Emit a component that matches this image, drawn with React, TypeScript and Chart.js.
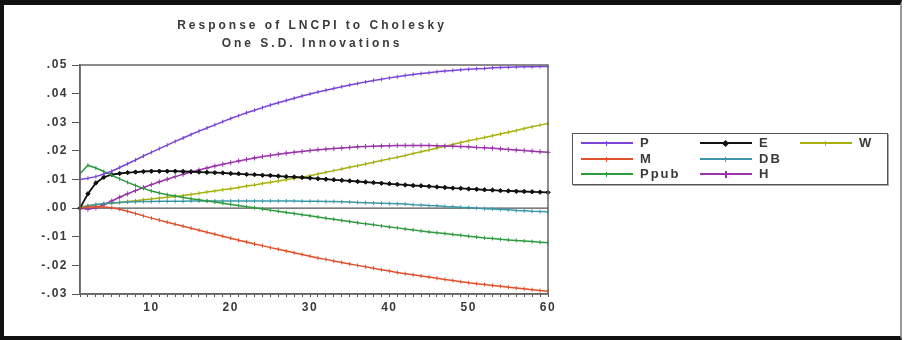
import React, { useEffect, useRef } from "react";
import { Chart, registerables } from "chart.js";

Chart.register(...registerables);

const periods: string[] = Array.from({ length: 60 }, (_, i) => String(i + 1));

const seriesP = [
  0.0100, 0.0104, 0.0110, 0.0119, 0.0129, 0.0142, 0.0155, 0.0168, 0.0182, 0.0195,
  0.0208, 0.0220, 0.0233, 0.0245, 0.0257, 0.0269, 0.0280, 0.0291, 0.0302, 0.0313,
  0.0323, 0.0333, 0.0342, 0.0351, 0.0360, 0.0368, 0.0376, 0.0384, 0.0392, 0.0399,
  0.0406, 0.0412, 0.0418, 0.0424, 0.0430, 0.0435, 0.0441, 0.0446, 0.0450, 0.0455,
  0.0459, 0.0463, 0.0467, 0.0470, 0.0473, 0.0476, 0.0479, 0.0481, 0.0483, 0.0485,
  0.0487, 0.0488, 0.0490, 0.0491, 0.0492, 0.0493, 0.0494, 0.0494, 0.0495, 0.0495,
];

const seriesM = [
  0.0000, 0.0004, 0.0005, 0.0004, 0.0001, -0.0004, -0.0011, -0.0019, -0.0027, -0.0035,
  -0.0042, -0.0049, -0.0056, -0.0063, -0.0070, -0.0077, -0.0084, -0.0091, -0.0098, -0.0105,
  -0.0112, -0.0118, -0.0125, -0.0131, -0.0138, -0.0144, -0.0150, -0.0156, -0.0162, -0.0168,
  -0.0174, -0.0179, -0.0185, -0.0190, -0.0195, -0.0200, -0.0205, -0.0210, -0.0215, -0.0220,
  -0.0225, -0.0229, -0.0233, -0.0237, -0.0241, -0.0245, -0.0249, -0.0253, -0.0257, -0.0261,
  -0.0264, -0.0267, -0.0270, -0.0273, -0.0276, -0.0279, -0.0282, -0.0285, -0.0288, -0.0290,
];

const seriesPpub = [
  0.0120, 0.0150, 0.0140, 0.0128, 0.0115, 0.0102, 0.0090, 0.0079, 0.0069, 0.0060,
  0.0053, 0.0047, 0.0042, 0.0037, 0.0033, 0.0029, 0.0025, 0.0021, 0.0017, 0.0013,
  0.0009, 0.0005, 0.0001, -0.0003, -0.0007, -0.0011, -0.0015, -0.0019, -0.0023, -0.0027,
  -0.0031, -0.0035, -0.0039, -0.0043, -0.0047, -0.0051, -0.0055, -0.0058, -0.0062, -0.0066,
  -0.0069, -0.0073, -0.0076, -0.0080, -0.0083, -0.0086, -0.0089, -0.0092, -0.0095, -0.0098,
  -0.0101, -0.0104, -0.0106, -0.0109, -0.0111, -0.0113, -0.0115, -0.0117, -0.0119, -0.0121,
];

const seriesE = [
  0.0000, 0.0050, 0.0088, 0.0108, 0.0117, 0.0121, 0.0124, 0.0126, 0.0128, 0.0129,
  0.0129, 0.0129, 0.0129, 0.0128, 0.0127, 0.0126, 0.0125, 0.0124, 0.0123, 0.0121,
  0.0120, 0.0118, 0.0117, 0.0115, 0.0114, 0.0112, 0.0110, 0.0109, 0.0107, 0.0105,
  0.0103, 0.0101, 0.0099, 0.0097, 0.0095, 0.0093, 0.0091, 0.0089, 0.0087, 0.0085,
  0.0083, 0.0081, 0.0079, 0.0078, 0.0076, 0.0074, 0.0072, 0.0070, 0.0069, 0.0067,
  0.0066, 0.0064, 0.0063, 0.0061, 0.0060, 0.0059, 0.0058, 0.0057, 0.0056, 0.0055,
];

const seriesDB = [
  0.0000, 0.0008, 0.0013, 0.0016, 0.0018, 0.0020, 0.0021, 0.0022, 0.0023, 0.0023,
  0.0024, 0.0024, 0.0024, 0.0024, 0.0025, 0.0025, 0.0025, 0.0025, 0.0025, 0.0025,
  0.0025, 0.0025, 0.0025, 0.0025, 0.0025, 0.0025, 0.0025, 0.0025, 0.0024, 0.0024,
  0.0024, 0.0023, 0.0023, 0.0022, 0.0021, 0.0020, 0.0019, 0.0018, 0.0017, 0.0016,
  0.0015, 0.0014, 0.0012, 0.0011, 0.0009, 0.0008, 0.0006, 0.0005, 0.0003, 0.0002,
  0.0000, -0.0002, -0.0003, -0.0005, -0.0006, -0.0008, -0.0009, -0.0011, -0.0012, -0.0013,
];

const seriesH = [
  0.0000, -0.0004, 0.0001, 0.0012, 0.0025, 0.0038, 0.0050, 0.0061, 0.0072, 0.0082,
  0.0092, 0.0101, 0.0110, 0.0118, 0.0126, 0.0133, 0.0140, 0.0147, 0.0153, 0.0159,
  0.0165, 0.0170, 0.0175, 0.0180, 0.0184, 0.0188, 0.0192, 0.0195, 0.0198, 0.0201,
  0.0204, 0.0206, 0.0208, 0.0210, 0.0212, 0.0214, 0.0215, 0.0216, 0.0217, 0.0218,
  0.0219, 0.0219, 0.0219, 0.0219, 0.0219, 0.0218, 0.0217, 0.0216, 0.0215, 0.0214,
  0.0212, 0.0211, 0.0209, 0.0207, 0.0205, 0.0203, 0.0201, 0.0199, 0.0197, 0.0195,
];

const seriesW = [
  0.0005, 0.0008, 0.0011, 0.0014, 0.0017, 0.0020, 0.0023, 0.0026, 0.0029, 0.0032,
  0.0035, 0.0038, 0.0041, 0.0044, 0.0048, 0.0052, 0.0056, 0.0060, 0.0064, 0.0068,
  0.0072, 0.0077, 0.0081, 0.0086, 0.0090, 0.0095, 0.0099, 0.0104, 0.0108, 0.0113,
  0.0119, 0.0125, 0.0131, 0.0137, 0.0143, 0.0148, 0.0154, 0.0160, 0.0166, 0.0172,
  0.0178, 0.0184, 0.0191, 0.0197, 0.0203, 0.0210, 0.0216, 0.0222, 0.0229, 0.0235,
  0.0241, 0.0247, 0.0253, 0.0259, 0.0265, 0.0271, 0.0278, 0.0284, 0.0290, 0.0296,
];

const yTickMin = -0.03;
const yTickMax = 0.05;
const yTickStep = 0.01;
const xLabelEvery = 10;

const titleLines = ["Response of LNCPI to Cholesky", "One S.D. Innovations"];

type Series = { name: string; data: number[]; color: string; style: string; radius: number; rot: number; width: number };

const seriesList: Series[] = [
  { name: "P", data: seriesP, color: "#7a44d8", style: "line", radius: 2, rot: 90, width: 1.5 },
  { name: "M", data: seriesM, color: "#e0502c", style: "line", radius: 2, rot: 90, width: 1.5 },
  { name: "Ppub", data: seriesPpub, color: "#2e9a3e", style: "line", radius: 2, rot: 90, width: 1.5 },
  { name: "E", data: seriesE, color: "#111111", style: "rectRot", radius: 2.2, rot: 0, width: 1.8 },
  { name: "DB", data: seriesDB, color: "#3a98a8", style: "line", radius: 2, rot: 90, width: 1.5 },
  { name: "H", data: seriesH, color: "#9a34aa", style: "cross", radius: 2.5, rot: 0, width: 1.5 },
  { name: "W", data: seriesW, color: "#a8b010", style: "line", radius: 2, rot: 90, width: 1.5 },
];

// legend grid: column-major, 3 rows
const legendCols = [581, 700, 800];
const legendRows = [143, 159, 174];

const FONT = "'Liberation Sans', Arial, sans-serif";

function fmtY(v: number): string {
  if (Math.abs(v) < 1e-9) return ".00";
  const s = v.toFixed(2);
  return s.replace("0.", ".");
}

const frameAndSpacing = {
  id: "frameAndSpacing",
  beforeDraw(chart: any) {
    chart.ctx.letterSpacing = "1.5px";
  },
  beforeDatasetsDraw(chart: any) {
    const { ctx, chartArea, scales } = chart;
    const y0 = scales.y.getPixelForValue(0);
    ctx.save();
    ctx.strokeStyle = "#555";
    ctx.lineWidth = 1.2;
    ctx.beginPath();
    ctx.moveTo(chartArea.left, y0);
    ctx.lineTo(chartArea.right, y0);
    ctx.stroke();
    ctx.restore();
  },
  afterDatasetsDraw(chart: any) {
    const { ctx, chartArea } = chart;
    ctx.save();
    ctx.strokeStyle = "#666";
    ctx.lineWidth = 1.5;
    ctx.strokeRect(chartArea.left, chartArea.top, chartArea.right - chartArea.left, chartArea.bottom - chartArea.top);
    ctx.restore();
  },
};

function LegendMarker({ s }: { s: Series }) {
  if (s.style === "rectRot") {
    return (
      <div style={{ position: "absolute", left: 23, top: -2.5, width: 5, height: 5, background: s.color, transform: "rotate(45deg)" }} />
    );
  }
  if (s.style === "cross") {
    return <div style={{ position: "absolute", left: 25, top: -3, width: 1.5, height: 7, background: s.color }} />;
  }
  return <div style={{ position: "absolute", left: 25, top: -2, width: 1.2, height: 5, background: s.color }} />;
}

export default function App() {
  const canvasRef = useRef<HTMLCanvasElement | null>(null);

  useEffect(() => {
    if (!canvasRef.current) return;
    const chart = new Chart(canvasRef.current, {
      type: "line",
      data: {
        labels: periods,
        datasets: seriesList.map((s) => ({
          label: s.name,
          data: s.data,
          borderColor: s.color,
          backgroundColor: s.color,
          borderWidth: s.width,
          pointStyle: s.style as any,
          pointRadius: s.radius,
          pointRotation: s.rot,
          pointBorderColor: s.color,
          pointBackgroundColor: s.color,
          pointBorderWidth: 1,
          tension: 0,
          fill: false,
        })),
      },
      options: {
        animation: false,
        responsive: false,
        maintainAspectRatio: false,
        layout: { padding: { left: 0, top: 65, right: 357, bottom: 0 } },
        plugins: { legend: { display: false }, title: { display: false }, tooltip: { enabled: false } },
        scales: {
          x: {
            type: "category",
            offset: false,
            afterFit: (scale: any) => {
              scale.height = 46;
            },
            grid: { display: true, drawOnChartArea: false, drawTicks: true, tickLength: 3, tickColor: "#555", offset: false },
            border: { display: true, color: "#666", width: 1.5 },
            ticks: {
              autoSkip: false,
              maxRotation: 0,
              minRotation: 0,
              padding: 3,
              color: "#3a3a3a",
              font: { family: FONT, size: 12, weight: "bold" },
              callback: (_v: any, i: number) => ((i + 1) % xLabelEvery === 0 ? periods[i] : ""),
            },
          },
          y: {
            min: yTickMin,
            max: yTickMax,
            afterFit: (scale: any) => {
              scale.width = 80;
            },
            grid: { display: true, drawOnChartArea: false, drawTicks: true, tickLength: 8, tickColor: "#555" },
            border: { display: true, color: "#666", width: 1.5 },
            ticks: {
              stepSize: yTickStep,
              padding: 4,
              color: "#3a3a3a",
              font: { family: FONT, size: 12, weight: "bold" },
              callback: (v: any) => fmtY(Number(v)),
            },
          },
        },
      },
      plugins: [frameAndSpacing],
    } as any);
    return () => chart.destroy();
  }, []);

  return (
    <div style={{ position: "absolute", left: 0, top: 0, width: 905, height: 340, background: "#fff", overflow: "hidden" }}>
      <canvas ref={canvasRef} width={905} height={340} style={{ position: "absolute", left: 0, top: 0, width: 905, height: 340 }} />
      <div
        style={{
          position: "absolute",
          left: 0,
          top: 0,
          width: 902,
          height: 340,
          boxSizing: "border-box",
          borderTop: "5px solid #111",
          borderLeft: "4px solid #111",
          borderBottom: "4px solid #111",
          borderRight: "2px solid #999",
          pointerEvents: "none",
        }}
      />
      {titleLines.map((t, i) => (
        <div
          key={t}
          style={{
            position: "absolute",
            left: 112,
            width: 400,
            top: 17 + i * 18,
            textAlign: "center",
            fontFamily: FONT,
            fontSize: 12,
            fontWeight: "bold",
            letterSpacing: "3px",
            color: "#3a3a3a",
            lineHeight: "16px",
            whiteSpace: "nowrap",
          }}
        >
          {t}
        </div>
      ))}
      <div
        style={{
          position: "absolute",
          left: 572,
          top: 133,
          width: 316,
          height: 52,
          boxSizing: "border-box",
          border: "1.5px solid #555",
          boxShadow: "1px 1px 0 #aaa",
        }}
      />
      {seriesList.map((s, i) => {
        const col = Math.floor(i / 3);
        const row = i % 3;
        const x = legendCols[col];
        const y = legendRows[row];
        return (
          <div key={s.name} style={{ position: "absolute", left: x, top: y, width: 0, height: 0 }}>
            <div style={{ position: "absolute", left: 0, top: -0.75, width: 52, height: 1.5, background: s.color }} />
            <LegendMarker s={s} />
            <div
              style={{
                position: "absolute",
                left: 59,
                top: -8,
                fontFamily: FONT,
                fontSize: 13,
                fontWeight: "bold",
                letterSpacing: "2px",
                lineHeight: "16px",
                color: "#3a3a3a",
                whiteSpace: "nowrap",
              }}
            >
              {s.name}
            </div>
          </div>
        );
      })}
    </div>
  );
}
